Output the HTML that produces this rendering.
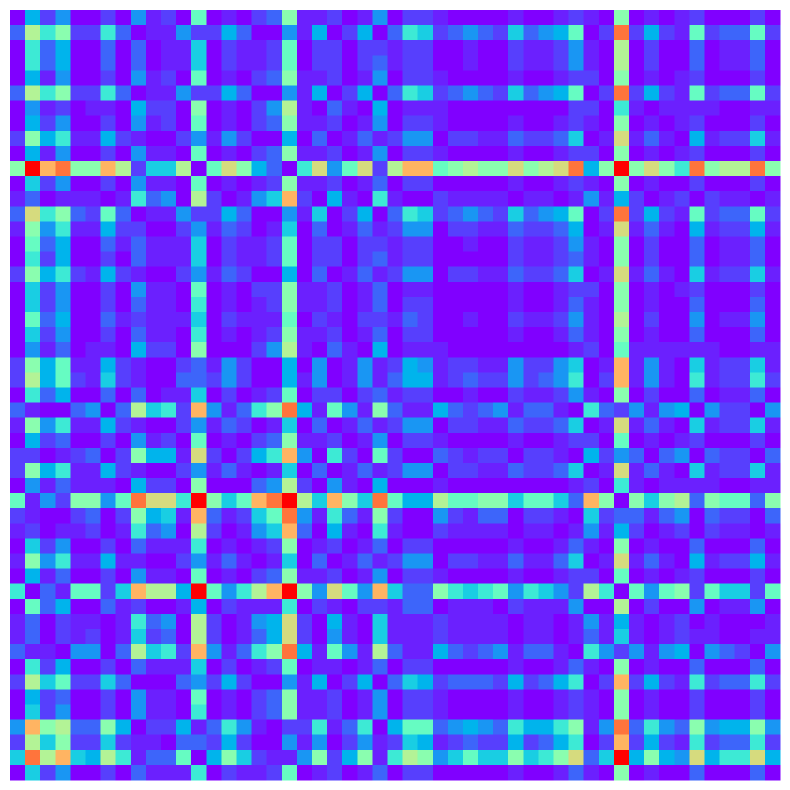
<!DOCTYPE html>
<html>
<head>
<meta charset="utf-8">
<style>
  html, body { margin: 0; padding: 0; background: #ffffff; }
  body { width: 790px; height: 790px; overflow: hidden; font-family: "Liberation Sans", sans-serif; }
  svg { display: block; }
</style>
</head>
<body>
<svg id="chart" width="790" height="790" viewBox="0 0 790 790" shape-rendering="crispEdges">
  <rect x="0" y="0" width="790" height="790" fill="#ffffff"/>
  <g id="cells"></g>
</svg>
<script>
// Matrix values as level codes (one char per cell), row by row, 51 x 51
const matrixRows = [
"05240020412080102"+"39112014022100001"+"00121090101200020",
"3a792273011422530"+"04150250376234326"+"345802d2521823382",
"07350030301160211"+"28022022122001002"+"112410a0200301130",
"07350030301160211"+"28022023122001002"+"112410a0200301130",
"05140020412080102"+"39112014022100001"+"00122090101200020",
"3a792273011422530"+"04150250376234326"+"345802d2521823382",
"04120110522090102"+"4a103105011100000"+"00022071011110011",
"05240020412080102"+"39112014022100001"+"00121090101200020",
"29571152100241420"+"05030131244022113"+"223601b1310512261",
"05140020411080102"+"39112014022100001"+"00122090101200020",
"9ecd99ca266a08b95"+"307b48b2acc89a99b"+"9abd59e9b97d9aad9",
"06240020411080101"+"29112013022000001"+"00121090100200020",
"130111017340a2014"+"6c205107100211110"+"11014152012021101",
"3b793283011422530"+"04160250376234326"+"345802d2521823382",
"19471152200241320"+"16030131244022113"+"223501b1310512251",
"08350031311160211"+"28022022122001002"+"11241090200301130",
"07250020311160211"+"28022023122000002"+"11231090200301130",
"29572152100241320"+"05030131244022113"+"223601b1310612261",
"06240020411080102"+"29112013011000001"+"00122090101200020",
"06240020311070101"+"29112013022000001"+"00131090100300030",
"08350031211160211"+"18021022132001002"+"112410a0200401140",
"06240020311070101"+"29112013022000001"+"00131090100300030",
"04130110522090002"+"4a103105011100000"+"00012081111110011",
"29581152100231420"+"05040141254122114"+"224601c1410612261",
"2a582162100332420"+"05140141355123224"+"234702c1410712272",
"07350030301160201"+"28022023122001002"+"11241090200301130",
"31003403a672c4137"+"9d518419311532341"+"33107324145042204",
"19471152100241320"+"16030131244022113"+"223601b1310612261",
"05230020412080102"+"39112014022100001"+"00122080101200020",
"220123029551b2025"+"7c407208200321220"+"22105243034032203",
"29571152100241310"+"16030131244022113"+"223601b1310612261",
"04131110522090003"+"4a204105000100000"+"00012071011110011",
"81429948dbb7e968c"+"dea6c96d855a88996"+"8863c90969a398839",
"210023029561c3126"+"8d417319200421330"+"22106233134032203",
"120112017340a2014"+"6c305107100211110"+"11014152012021101",
"06240020311170101"+"29012013022000001"+"00131090100300030",
"19471151100241310"+"16030131244022113"+"113601b1310512251",
"05130020411080102"+"39112014022100001"+"00122080101200020",
"70318826caa5e847a"+"ce94b84c633976784"+"7642a708489286628",
"08350031200150211"+"17021022133011102"+"111400a0200401140",
"130211017340a2014"+"5b205106111211110"+"11014151012010001",
"130212016230a2013"+"5b204106111211110"+"11013161012110011",
"31104403a672c4137"+"9d51841a311532341"+"33107424145043204",
"07250020311160201"+"28011013022000001"+"00131090100300030",
"2a682263000342520"+"04150250365233325"+"235702c2521723372",
"05230020411080102"+"39112014022100001"+"00121090100200020",
"06240020411070102"+"39112014022100001"+"00121090100200020",
"4c9a3395022513741"+"02271370588345437"+"557914d3743945594",
"2a692262110332520"+"04140241265123225"+"235702c2521723372",
"6dac65a7133805962"+"114925917a9468669"+"679b36e5954b577b5",
"06240020311170211"+"28012013022000001"+"00131090100300030"
];
// Normalized value for each level code 0..e
const levelValues = [0, 0.04, 0.08, 0.13, 0.2, 0.25, 0.3, 0.37, 0.45, 0.52, 0.6, 0.67, 0.75, 0.85, 1.0];

const nRows = matrixRows.length;
const nCols = matrixRows[0].length;
const plotX0 = 10, plotY0 = 10, plotW = 770, plotH = 770;

function xScale(col) { return plotX0 + col * plotW / nCols; }
function yScale(row) { return plotY0 + row * plotH / nRows; }

// matplotlib "rainbow" colormap
function rainbow(v) {
  v = Math.max(0, Math.min(1, v));
  const r = Math.min(1, Math.abs(2 * v - 0.5));
  const g = Math.sin(v * Math.PI);
  const b = Math.cos(v * Math.PI / 2);
  const h = c => Math.round(Math.max(0, Math.min(1, c)) * 255);
  return "rgb(" + h(r) + "," + h(g) + "," + h(b) + ")";
}

const cellsG = document.getElementById("cells");
const NS = "http://www.w3.org/2000/svg";
for (let i = 0; i < nRows; i++) {
  const rowStr = matrixRows[i];
  for (let j = 0; j < nCols; j++) {
    const v = levelValues[parseInt(rowStr[j], 16)];
    const x0 = xScale(j), x1 = xScale(j + 1);
    const y0 = yScale(i), y1 = yScale(i + 1);
    const rect = document.createElementNS(NS, "rect");
    rect.setAttribute("x", x0.toFixed(2));
    rect.setAttribute("y", y0.toFixed(2));
    rect.setAttribute("width", (x1 - x0 + 0.5).toFixed(2));
    rect.setAttribute("height", (y1 - y0 + 0.5).toFixed(2));
    rect.setAttribute("fill", rainbow(v));
    
    
    cellsG.appendChild(rect);
  }
}
</script>
</body>
</html>
